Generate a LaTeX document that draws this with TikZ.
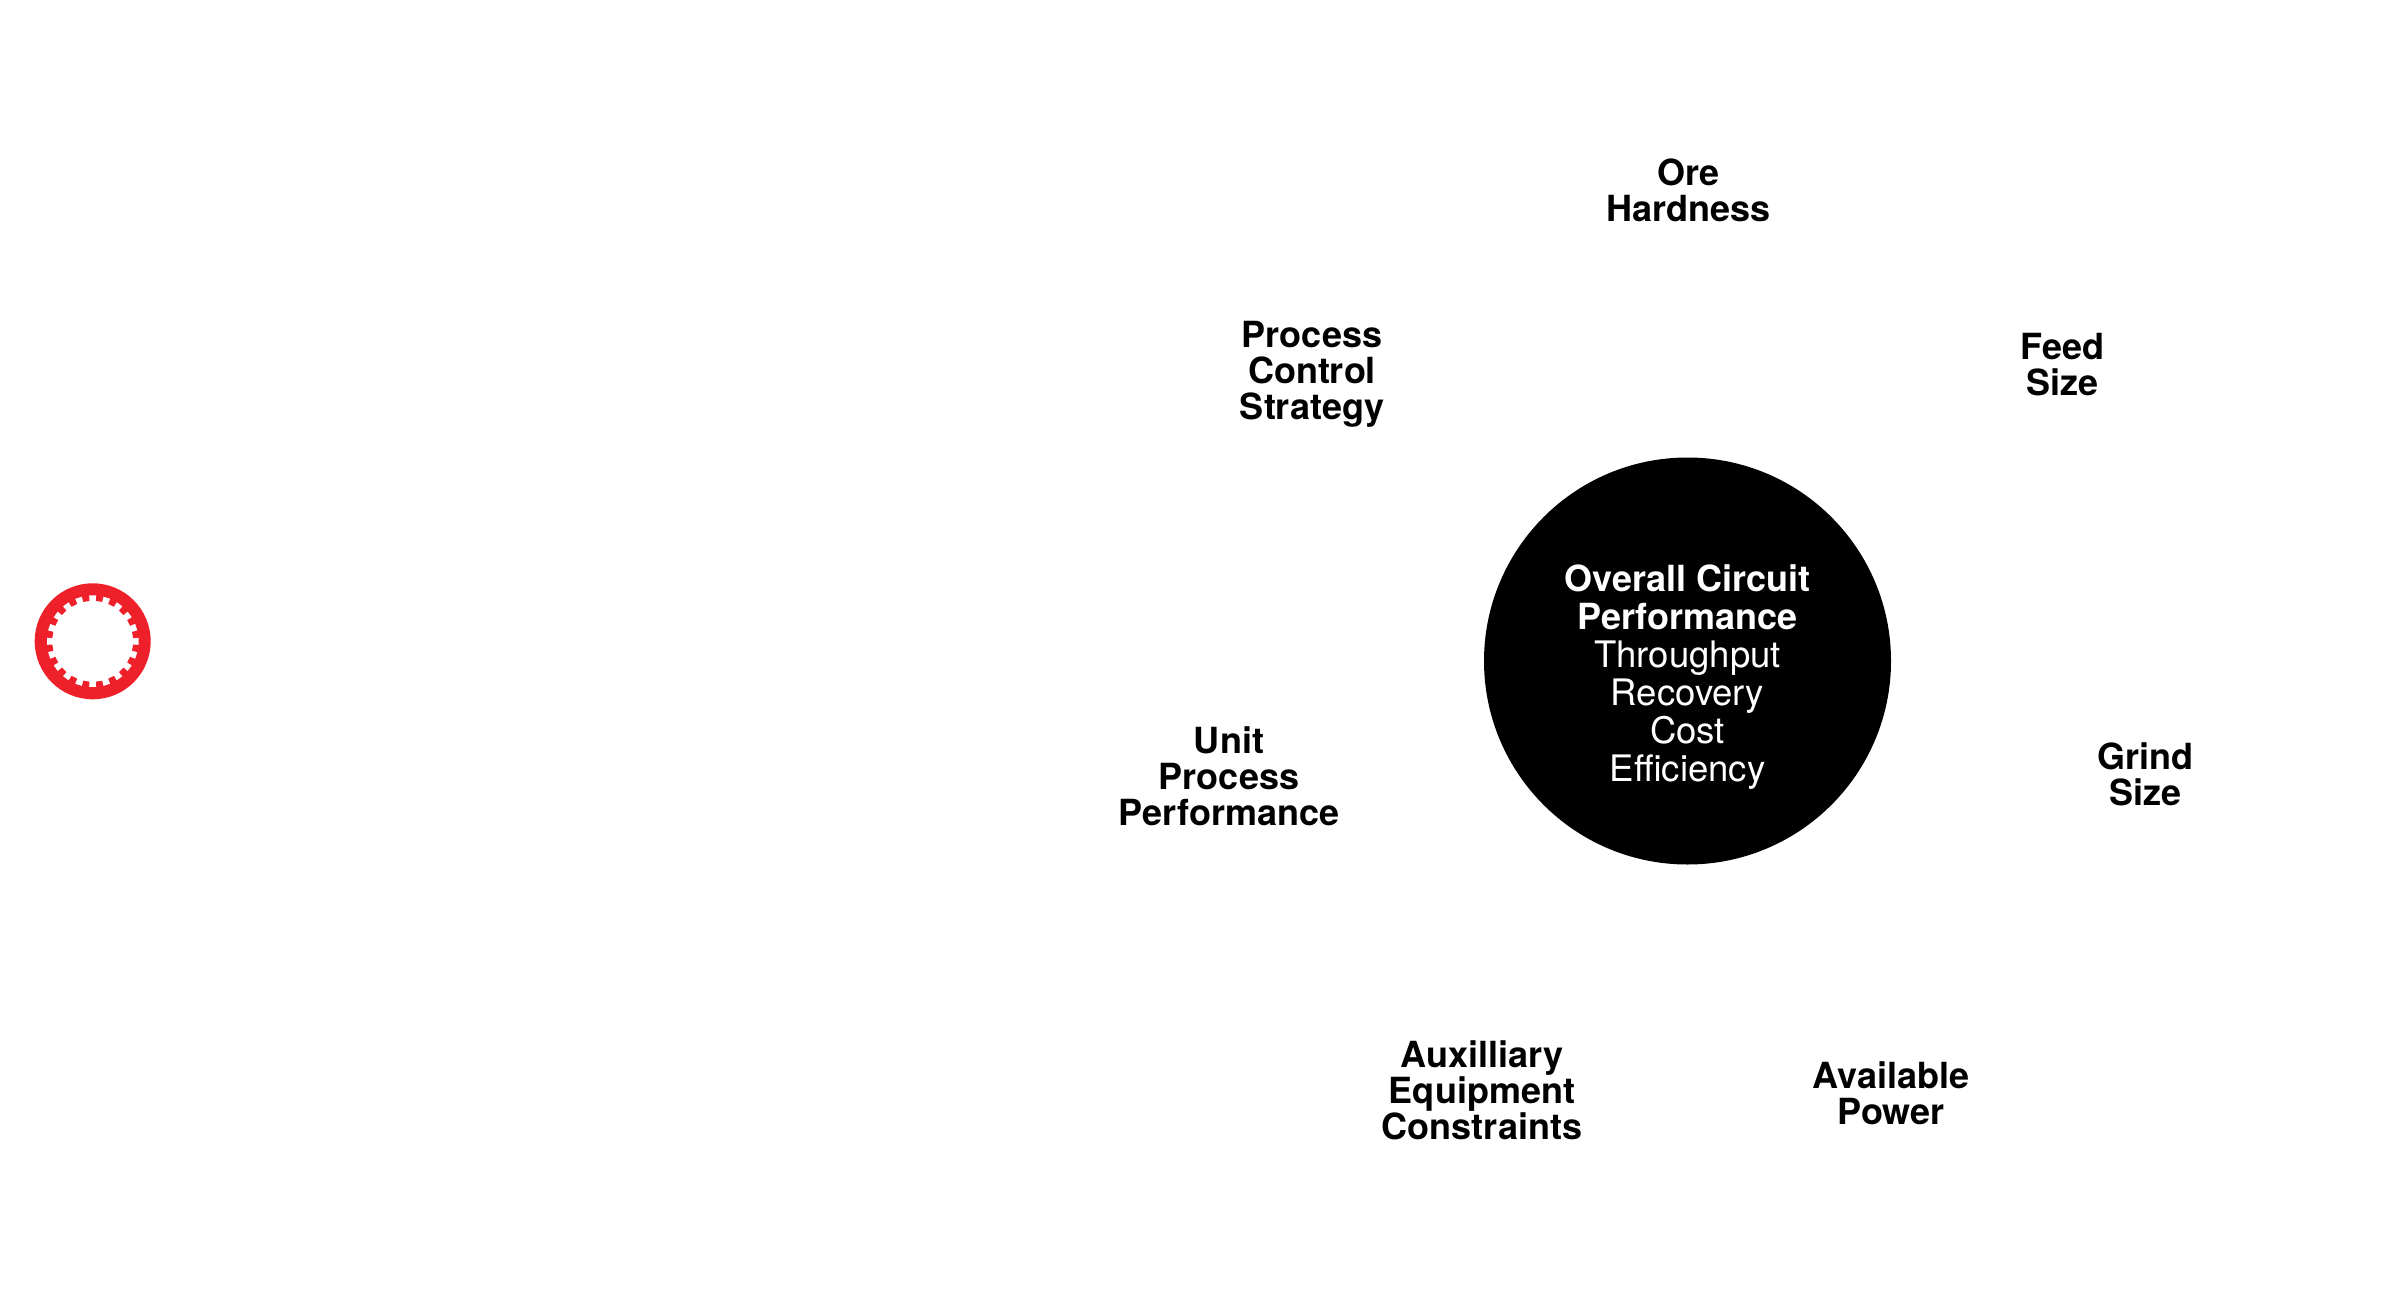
\documentclass[tikz,border=0pt]{standalone}
\usepackage{fontspec}
\setmainfont{TeX Gyre Heros}
\definecolor{ringred}{HTML}{EE2029}
\tikzset{
  lbl/.style={align=center,inner sep=0pt,text=black,font=\fontsize{36}{36}\selectfont\bfseries},
  hub/.style={circle,fill=black,draw=none,minimum size=407pt,inner sep=0pt},
  hubline/.style={inner sep=0pt,text=white,anchor=base},
  hubb/.style={hubline,font=\fontsize{36}{38}\selectfont\bfseries},
  hubr/.style={hubline,font=\fontsize{36.5}{38}\selectfont\mdseries},
}
\begin{document}
\begin{tikzpicture}[x=1pt,y=-1pt]
\useasboundingbox (0,0) rectangle (2400,1300);
\fill[white] (0,0) rectangle (2400,1300);
\node[hub] (hub) at (1687.5,661) {};
\node[hubb] (h1) at (1687.5,591) {Overall Circuit};
\node[hubb] (h2) at (1687.5,629) {Performance};
\node[hubr] (h3) at (1687.5,667) {Throughput};
\node[hubr] (h4) at (1687.5,705) {Recovery};
\node[hubr] (h5) at (1687.5,743) {Cost};
\node[hubr] (h6) at (1687.5,781) {Efficiency};
\node[lbl] (ore) at (1688.5,190) {Ore\\Hardness};
\node[lbl] (process) at (1312,374.5) {Process\\Control\\Strategy};
\node[lbl] (feed) at (2062.5,364.5) {Feed\\Size};
\node[lbl] (grind) at (2145,774.5) {Grind\\Size};
\node[lbl] (unit) at (1229,776) {Unit\\Process\\Performance};
\node[lbl] (aux) at (1482,1090.5) {Auxilliary\\Equipment\\Constraints};
\node[lbl] (power) at (1891,1093.5) {Available\\Power};
\begin{scope}[shift={(92.7,641.3)}]
\fill[ringred,even odd rule] (0,0) circle[radius=58]
  (-4.5:46)
  \foreach \k in {0,...,19}{
    -- ({\k*18-4.5}:46) -- ({\k*18+4.5}:46) -- ({\k*18+4.5}:40.5) -- ({\k*18+13.5}:40.5)
  } -- cycle;
\end{scope}
\end{tikzpicture}
\end{document}
